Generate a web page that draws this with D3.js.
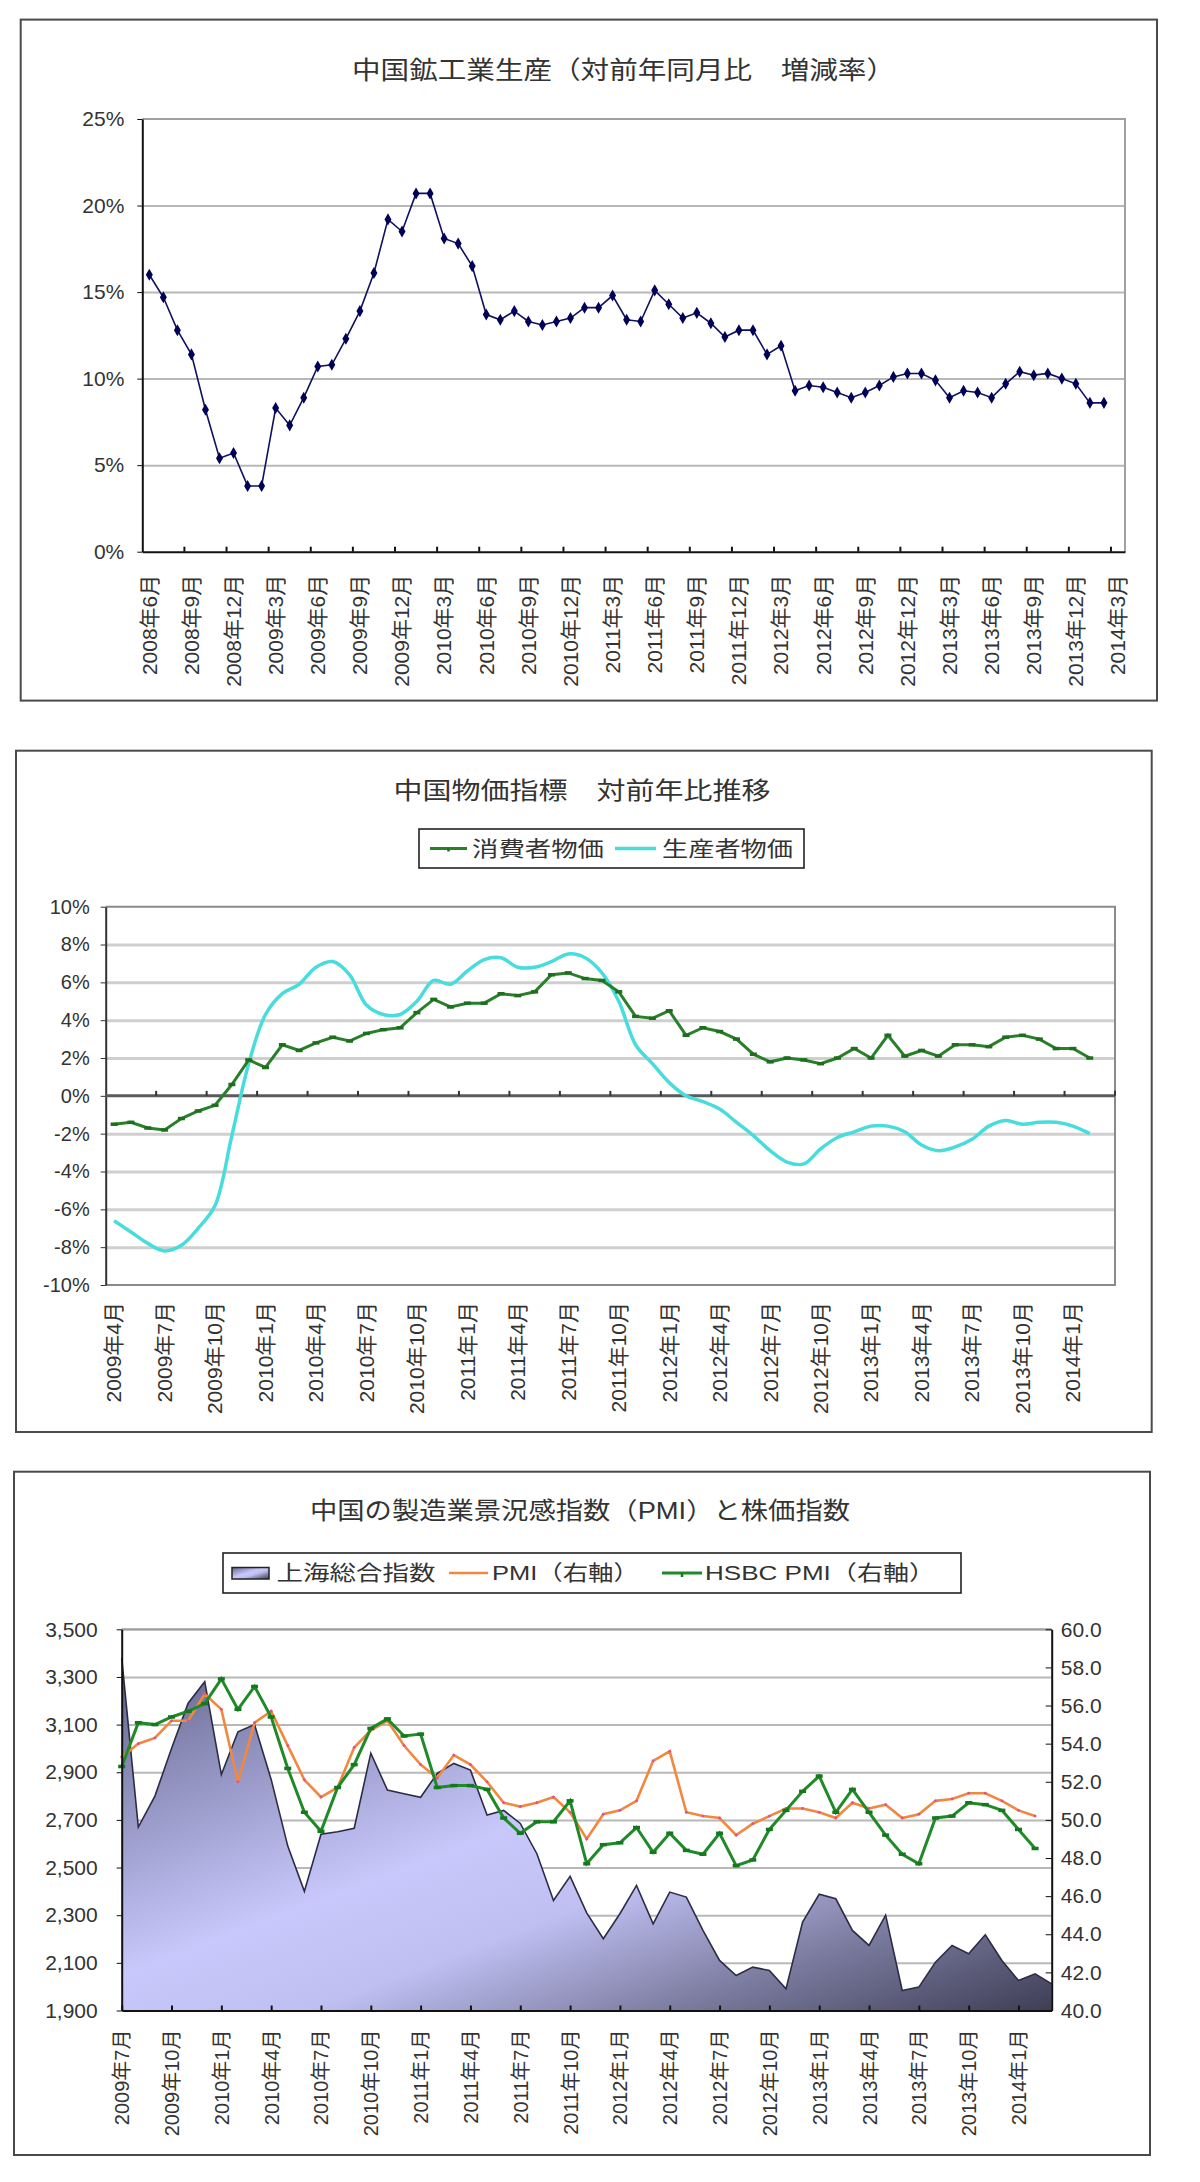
<!DOCTYPE html>
<html>
<head>
<meta charset="utf-8">
<script src="https://cdn.jsdelivr.net/npm/d3@7"></script>
<style>
  body { margin: 0; background: #fff; }
  svg text { font-family: "Liberation Sans", "Noto Sans CJK JP", sans-serif; fill: #333; }
</style>
</head>
<body>
<div id="chart-container"></div>
<script>
// ---------- data ----------
// Chart 1: 中国鉱工業生産 (YoY %), monthly 2008/6 .. 2014/3 (last month empty)
const ipMonths = d3.utcMonth.range(new Date(Date.UTC(2008, 5, 1)), new Date(Date.UTC(2014, 3, 1)));
const ipValues = [
  16.0, 14.7, 12.8, 11.4, 8.2, 5.4, 5.7,
  3.8, 3.8, 8.3, 7.3, 8.9, 10.7, 10.8, 12.3, 13.9, 16.1, 19.2, 18.5,
  20.7, 20.7, 18.1, 17.8, 16.5, 13.7, 13.4, 13.9, 13.3, 13.1, 13.3, 13.5,
  14.1, 14.1, 14.8, 13.4, 13.3, 15.1, 14.3, 13.5, 13.8, 13.2, 12.4, 12.8,
  12.8, 11.4, 11.9, 9.3, 9.6, 9.5, 9.2, 8.9, 9.2, 9.6, 10.1, 10.3,
  10.3, 9.9, 8.9, 9.3, 9.2, 8.9, 9.7, 10.4, 10.2, 10.3, 10.0, 9.7,
  8.6, 8.6
];
const ipYTicks = [0, 5, 10, 15, 20, 25];

// Chart 2: 消費者物価 / 生産者物価 (YoY %), monthly 2009/4 .. 2014/3 (last month empty)
const priceMonths = d3.utcMonth.range(new Date(Date.UTC(2009, 3, 1)), new Date(Date.UTC(2014, 3, 1)));
const cpiValues = [
  -1.5, -1.4, -1.7, -1.8, -1.2, -0.8, -0.5, 0.6, 1.9,
  1.5, 2.7, 2.4, 2.8, 3.1, 2.9, 3.3, 3.5, 3.6, 4.4, 5.1, 4.7,
  4.9, 4.9, 5.4, 5.3, 5.5, 6.4, 6.5, 6.2, 6.1, 5.5, 4.2, 4.1,
  4.5, 3.2, 3.6, 3.4, 3.0, 2.2, 1.8, 2.0, 1.9, 1.7, 2.0, 2.5,
  2.0, 3.2, 2.1, 2.4, 2.1, 2.7, 2.7, 2.6, 3.1, 3.2, 3.0, 2.5,
  2.5, 2.0
];
const ppiValues = [
  -6.6, -7.2, -7.8, -8.2, -7.9, -7.0, -5.8, -2.1, 1.7,
  4.3, 5.4, 5.9, 6.8, 7.1, 6.4, 4.8, 4.3, 4.3, 5.0, 6.1, 5.9,
  6.6, 7.2, 7.3, 6.8, 6.8, 7.1, 7.5, 7.3, 6.5, 5.0, 2.7, 1.7,
  0.7, 0.0, -0.3, -0.7, -1.4, -2.1, -2.9, -3.5, -3.6, -2.8, -2.2, -1.9,
  -1.6, -1.6, -1.9, -2.6, -2.9, -2.7, -2.3, -1.6, -1.3, -1.5, -1.4, -1.4,
  -1.6, -2.0
];
const priceYTicks = [-10, -8, -6, -4, -2, 0, 2, 4, 6, 8, 10];

// Chart 3: 上海総合指数 (left) and PMI / HSBC PMI (right), monthly 2009/7 .. 2014/3
const pmiMonths = d3.utcMonth.range(new Date(Date.UTC(2009, 6, 1)), new Date(Date.UTC(2014, 3, 1)));
const shanghaiValues = [
  3380, 2670, 2800, 3000, 3190, 3280,
  2890, 3070, 3100, 2870, 2590, 2400, 2640, 2650, 2665, 2980, 2825, 2810,
  2795, 2895, 2937, 2909, 2720, 2740, 2685, 2558, 2362, 2463, 2310, 2201,
  2306, 2425, 2264, 2397, 2376, 2236, 2110, 2047, 2082, 2068, 1991, 2271,
  2388, 2369, 2236, 2173, 2300, 1984, 1998, 2103, 2173, 2138, 2218, 2110,
  2026, 2054, 2012
];
const pmiValues = [
  53.3, 54.0, 54.3, 55.2, 55.2, 56.6,
  55.8, 52.0, 55.1, 55.7, 53.9, 52.1, 51.2, 51.7, 53.8, 54.7, 55.2, 53.9,
  52.9, 52.2, 53.4, 52.9, 52.0, 50.9, 50.7, 50.9, 51.2, 50.4, 49.0, 50.3,
  50.5, 51.0, 53.1, 53.6, 50.4, 50.2, 50.1, 49.2, 49.8, 50.2, 50.6, 50.6,
  50.4, 50.1, 50.9, 50.6, 50.8, 50.1, 50.3, 51.0, 51.1, 51.4, 51.4, 51.0,
  50.5, 50.2
];
const hsbcValues = [
  52.8, 55.1, 55.0, 55.4, 55.7, 56.1,
  57.4, 55.8, 57.0, 55.4, 52.7, 50.4, 49.4, 51.7, 52.9, 54.8, 55.3, 54.4,
  54.5, 51.7, 51.8, 51.8, 51.6, 50.1, 49.3, 49.9, 49.9, 51.0, 47.7, 48.7,
  48.8, 49.6, 48.3, 49.3, 48.4, 48.2, 49.3, 47.6, 47.9, 49.5, 50.5, 51.5,
  52.3, 50.4, 51.6, 50.4, 49.2, 48.2, 47.7, 50.1, 50.2, 50.9, 50.8, 50.5,
  49.5, 48.5
];
const stockTicks = [1900, 2100, 2300, 2500, 2700, 2900, 3100, 3300, 3500];
const pmiTicks = [40, 42, 44, 46, 48, 50, 52, 54, 56, 58, 60];

// ---------- setup ----------
const width = 1200;
const height = 2182;
const fontStack = '"Liberation Sans", "Noto Sans CJK JP", sans-serif';
const monthLabel = d3.utcFormat("%Y年%-m月");
const dash = "M-3.5,0H3.5";

const svg = d3.create("svg")
    .attr("width", width)
    .attr("height", height)
    .attr("viewBox", `0 0 ${width} ${height}`);

svg.append("rect").attr("width", width).attr("height", height).attr("fill", "#fff");

const defs = svg.append("defs");
const grad = defs.append("linearGradient").attr("id", "shGrad")
    .attr("x1", 0).attr("y1", 0).attr("x2", 1).attr("y2", 1);
[[0, "#5c5c84"], [0.15, "#8686b2"], [0.45, "#c8c8fc"], [0.6, "#bfbff2"], [0.8, "#7a7a9e"], [1, "#3e3e56"]]
  .forEach(([o, c]) => grad.append("stop").attr("offset", o).attr("stop-color", c));

function frame(x0, y0, x1, y1) {
  svg.append("rect")
      .attr("x", x0).attr("y", y0)
      .attr("width", x1 - x0).attr("height", y1 - y0)
      .attr("fill", "none").attr("stroke", "#4a4a4a").attr("stroke-width", 2);
}

function title(str, cx, cy, len, size) {
  svg.append("text")
      .attr("x", cx).attr("y", cy).attr("dy", "0.35em")
      .attr("text-anchor", "middle")
      .attr("font-size", size)
      .attr("textLength", len).attr("lengthAdjust", "spacingAndGlyphs")
      .text(str);
}

function styleAxis(g, size) {
  g.attr("font-family", fontStack).attr("font-size", size);
  g.selectAll("text").attr("fill", "#333");
}

function rotateLabels(g, gap) {
  g.selectAll("text")
      .attr("transform", "rotate(-90)")
      .attr("text-anchor", "end")
      .attr("x", -gap).attr("y", 0).attr("dy", "0.35em");
}

// ================= Chart 1 =================
const c1 = {left: 142.3, right: 1125, top: 119, bottom: 551.7};
frame(20.7, 19.6, 1157, 700.6);
title("中国鉱工業生産（対前年同月比　増減率）", 623.5, 70, 543, 25);

const x1 = d3.scaleBand().domain(d3.range(ipMonths.length)).range([c1.left, c1.right]);
const y1 = d3.scaleLinear().domain([0, 25]).range([c1.bottom, c1.top]);

// Gridlines
svg.append("g")
    .attr("transform", `translate(${c1.left},0)`)
    .call(d3.axisLeft(y1).tickValues(ipYTicks.slice(1, -1)).tickSize(-(c1.right - c1.left)).tickFormat(""))
    .call(g => g.select(".domain").remove())
    .call(g => g.selectAll("line").attr("stroke", "#b8b8b8").attr("stroke-width", 2));

svg.append("path")
    .attr("d", `M${c1.left},${y1(25)}H${c1.right}V${c1.bottom}`)
    .attr("fill", "none").attr("stroke", "#a0a0a0").attr("stroke-width", 2);

// Y axis
svg.append("g")
    .attr("transform", `translate(${c1.left},0)`)
    .call(d3.axisLeft(y1).tickValues(ipYTicks).tickFormat(d => d + "%").tickSize(5).tickSizeOuter(0).tickPadding(13))
    .call(g => styleAxis(g, 21))
    .call(g => g.select(".domain").attr("stroke", "#111").attr("stroke-width", 2))
    .call(g => g.selectAll("line").attr("stroke", "#111"));

// X axis (labels centred on categories, every 3 months)
svg.append("g")
    .attr("transform", `translate(0,${c1.bottom})`)
    .call(d3.axisBottom(x1).tickValues(d3.range(0, ipMonths.length, 3))
        .tickFormat(i => monthLabel(ipMonths[i])).tickSize(0).tickSizeOuter(0))
    .call(g => styleAxis(g, 21))
    .call(g => g.select(".domain").attr("stroke", "#111").attr("stroke-width", 2))
    .call(g => rotateLabels(g, 23));

// Tick marks between categories
svg.append("g").selectAll("line")
    .data(d3.range(3, ipMonths.length, 3))
    .join("line")
    .attr("x1", i => x1(i)).attr("x2", i => x1(i))
    .attr("y1", c1.bottom).attr("y2", c1.bottom - 5)
    .attr("stroke", "#111").attr("stroke-width", 2);

const ipLine = d3.line()
    .x((d, i) => x1(i) + x1.bandwidth() / 2)
    .y(d => y1(d));

svg.append("path")
    .datum(ipValues)
    .attr("d", ipLine)
    .attr("fill", "none").attr("stroke", "#101060").attr("stroke-width", 1.6);

svg.append("g").selectAll("path")
    .data(ipValues)
    .join("path")
    .attr("transform", (d, i) => `translate(${x1(i) + x1.bandwidth() / 2},${y1(d)})`)
    .attr("d", d3.symbol(d3.symbolDiamond, 42))
    .attr("fill", "#000058");

// ================= Chart 2 =================
const c2 = {left: 105.7, right: 1115, top: 906.7, bottom: 1285};
frame(16, 750.7, 1151.7, 1432);
title("中国物価指標　対前年比推移", 582, 791, 377, 24);

const x2 = d3.scaleBand().domain(d3.range(priceMonths.length)).range([c2.left, c2.right]);
const y2 = d3.scaleLinear().domain([-10, 10]).range([c2.bottom, c2.top]);

svg.append("g")
    .attr("transform", `translate(${c2.left},0)`)
    .call(d3.axisLeft(y2).tickValues(priceYTicks.filter(v => v !== 0 && Math.abs(v) < 10))
        .tickSize(-(c2.right - c2.left)).tickFormat(""))
    .call(g => g.select(".domain").remove())
    .call(g => g.selectAll("line").attr("stroke", "#cfcfcf").attr("stroke-width", 3));

svg.append("path")
    .attr("d", `M${c2.left},${y2(10)}H${c2.right}V${y2(-10)}H${c2.left}`)
    .attr("fill", "none").attr("stroke", "#8a8a8a").attr("stroke-width", 2);

svg.append("g")
    .attr("transform", `translate(${c2.left},0)`)
    .call(d3.axisLeft(y2).tickValues(priceYTicks).tickFormat(d => d + "%").tickSize(5).tickSizeOuter(0).tickPadding(11))
    .call(g => styleAxis(g, 20))
    .call(g => g.select(".domain").attr("stroke", "#333").attr("stroke-width", 2))
    .call(g => g.selectAll("line").attr("stroke", "#333"));

// Zero line with tick marks
svg.append("line")
    .attr("x1", c2.left).attr("x2", c2.right)
    .attr("y1", y2(0)).attr("y2", y2(0))
    .attr("stroke", "#5a5a5a").attr("stroke-width", 3);

svg.append("g").selectAll("line")
    .data(d3.range(3, priceMonths.length + 1, 3))
    .join("line")
    .attr("x1", i => c2.left + i * x2.step()).attr("x2", i => c2.left + i * x2.step())
    .attr("y1", y2(0)).attr("y2", y2(0) - 5)
    .attr("stroke", "#333").attr("stroke-width", 2);

// Month labels under the plot
svg.append("g")
    .attr("transform", `translate(0,${c2.bottom})`)
    .call(d3.axisBottom(x2).tickValues(d3.range(0, priceMonths.length, 3))
        .tickFormat(i => monthLabel(priceMonths[i])).tickSize(0).tickSizeOuter(0))
    .call(g => styleAxis(g, 21))
    .call(g => g.select(".domain").remove())
    .call(g => rotateLabels(g, 17));

const px2 = i => x2(i) + x2.bandwidth() / 2;

svg.append("path")
    .datum(ppiValues)
    .attr("d", d3.line().x((d, i) => px2(i)).y(d => y2(d)).curve(d3.curveCatmullRom.alpha(0.5)))
    .attr("fill", "none").attr("stroke", "#48dcdc").attr("stroke-width", 3.5);

svg.append("path")
    .datum(cpiValues)
    .attr("d", d3.line().x((d, i) => px2(i)).y(d => y2(d)))
    .attr("fill", "none").attr("stroke", "#2a7f2a").attr("stroke-width", 3);

svg.append("g").selectAll("path")
    .data(cpiValues)
    .join("path")
    .attr("transform", (d, i) => `translate(${px2(i)},${y2(d)})`)
    .attr("d", dash)
    .attr("stroke", "#1f6e1f").attr("stroke-width", 3.5);

// Legend
const lg2 = svg.append("g");
lg2.append("rect").attr("x", 419).attr("y", 829).attr("width", 385).attr("height", 39)
    .attr("fill", "#fff").attr("stroke", "#222").attr("stroke-width", 1.6);
lg2.append("line").attr("x1", 430).attr("x2", 467).attr("y1", 848.5).attr("y2", 848.5)
    .attr("stroke", "#2a7f2a").attr("stroke-width", 3);
lg2.append("path").attr("transform", "translate(448.5,848.5)").attr("d", "M0,0V3")
    .attr("stroke", "#1f6e1f").attr("stroke-width", 2.5);
lg2.append("text").attr("x", 472).attr("y", 848.5).attr("dy", "0.35em").attr("font-size", 21)
    .attr("textLength", 132).attr("lengthAdjust", "spacingAndGlyphs").text("消費者物価");
lg2.append("line").attr("x1", 615).attr("x2", 656).attr("y1", 848.5).attr("y2", 848.5)
    .attr("stroke", "#48dcdc").attr("stroke-width", 3.5);
lg2.append("text").attr("x", 662).attr("y", 848.5).attr("dy", "0.35em").attr("font-size", 21)
    .attr("textLength", 131).attr("lengthAdjust", "spacingAndGlyphs").text("生産者物価");

// ================= Chart 3 =================
const c3 = {left: 121.7, right: 1051.7, top: 1629.3, bottom: 2010.5};
frame(14, 1471.7, 1150, 2155);
title("中国の製造業景況感指数（PMI）と株価指数", 580, 1511, 540, 24);

const x3 = d3.scalePoint().domain(d3.range(pmiMonths.length)).range([c3.left, c3.right]);
const y3 = d3.scaleLinear().domain([1900, 3500]).range([c3.bottom, c3.top]);
const y3r = d3.scaleLinear().domain([40, 60]).range([c3.bottom, c3.top]);

svg.append("g")
    .attr("transform", `translate(${c3.left},0)`)
    .call(d3.axisLeft(y3).tickValues(stockTicks.slice(1)).tickSize(-(c3.right - c3.left)).tickFormat(""))
    .call(g => g.select(".domain").remove())
    .call(g => g.selectAll("line").attr("stroke", "#b8b8b8").attr("stroke-width", 2));

// Shanghai composite area
svg.append("path")
    .datum(shanghaiValues)
    .attr("d", d3.area().x((d, i) => x3(i)).y0(y3(1900)).y1(d => y3(d)))
    .attr("fill", "url(#shGrad)");

svg.append("path")
    .datum(shanghaiValues)
    .attr("d", d3.line().x((d, i) => x3(i)).y(d => y3(d)))
    .attr("fill", "none").attr("stroke", "#2c2c46").attr("stroke-width", 1.6);

// PMI (right axis)
svg.append("path")
    .datum(pmiValues)
    .attr("d", d3.line().x((d, i) => x3(i)).y(d => y3r(d)))
    .attr("fill", "none").attr("stroke", "#f2873e").attr("stroke-width", 2.6);

svg.append("g").selectAll("circle")
    .data(pmiValues)
    .join("circle")
    .attr("cx", (d, i) => x3(i)).attr("cy", d => y3r(d))
    .attr("r", 1.4).attr("fill", "#e0509a");

// HSBC PMI (right axis)
svg.append("path")
    .datum(hsbcValues)
    .attr("d", d3.line().x((d, i) => x3(i)).y(d => y3r(d)))
    .attr("fill", "none").attr("stroke", "#1f8a27").attr("stroke-width", 3);

svg.append("g").selectAll("path")
    .data(hsbcValues)
    .join("path")
    .attr("transform", (d, i) => `translate(${x3(i)},${y3r(d)})`)
    .attr("d", dash)
    .attr("stroke", "#16781e").attr("stroke-width", 3.5);

svg.append("line")
    .attr("x1", c3.left).attr("x2", c3.right)
    .attr("y1", c3.top).attr("y2", c3.top)
    .attr("stroke", "#a0a0a0").attr("stroke-width", 2);

// Left axis
svg.append("g")
    .attr("transform", `translate(${c3.left},0)`)
    .call(d3.axisLeft(y3).tickValues(stockTicks).tickFormat(d3.format(",")).tickSize(5).tickSizeOuter(0).tickPadding(19))
    .call(g => styleAxis(g, 21))
    .call(g => g.select(".domain").attr("stroke", "#111").attr("stroke-width", 2))
    .call(g => g.selectAll("line").attr("stroke", "#111"));

// Right axis
svg.append("g")
    .attr("transform", `translate(${c3.right},0)`)
    .call(d3.axisRight(y3r).tickValues(pmiTicks).tickFormat(d3.format(".1f")).tickSizeInner(-6).tickSizeOuter(0).tickPadding(9))
    .call(g => styleAxis(g, 21))
    .call(g => g.select(".domain").attr("stroke", "#111").attr("stroke-width", 2))
    .call(g => g.selectAll("line").attr("stroke", "#111"));

// Bottom axis
svg.append("g")
    .attr("transform", `translate(0,${c3.bottom})`)
    .call(d3.axisBottom(x3).tickValues(d3.range(0, pmiMonths.length, 3))
        .tickFormat(i => monthLabel(pmiMonths[i])).tickSizeInner(-5).tickSizeOuter(0).tickPadding(0))
    .call(g => styleAxis(g, 20))
    .call(g => g.select(".domain").attr("stroke", "#111").attr("stroke-width", 2))
    .call(g => g.selectAll("line").attr("stroke", "#111").attr("stroke-width", 2))
    .call(g => rotateLabels(g, 19));

// Legend
const lg3 = svg.append("g");
lg3.append("rect").attr("x", 223).attr("y", 1553).attr("width", 738).attr("height", 40)
    .attr("fill", "#fff").attr("stroke", "#222").attr("stroke-width", 1.6);
lg3.append("rect").attr("x", 232).attr("y", 1567.5).attr("width", 37).attr("height", 11.5)
    .attr("fill", "url(#shGrad)").attr("stroke", "#222").attr("stroke-width", 1.5);
lg3.append("text").attr("x", 276.5).attr("y", 1573).attr("dy", "0.35em").attr("font-size", 21)
    .attr("textLength", 159).attr("lengthAdjust", "spacingAndGlyphs").text("上海総合指数");
lg3.append("line").attr("x1", 449).attr("x2", 488).attr("y1", 1573).attr("y2", 1573)
    .attr("stroke", "#f2873e").attr("stroke-width", 2.6);
lg3.append("text").attr("x", 492).attr("y", 1573).attr("dy", "0.35em").attr("font-size", 21)
    .attr("textLength", 147).attr("lengthAdjust", "spacingAndGlyphs").text("PMI（右軸）");
lg3.append("line").attr("x1", 662).attr("x2", 702).attr("y1", 1573).attr("y2", 1573)
    .attr("stroke", "#1f8a27").attr("stroke-width", 3);
lg3.append("path").attr("transform", "translate(682,1573)").attr("d", "M0,0V4")
    .attr("stroke", "#16781e").attr("stroke-width", 2.5);
lg3.append("text").attr("x", 705).attr("y", 1573).attr("dy", "0.35em").attr("font-size", 21)
    .attr("textLength", 230).attr("lengthAdjust", "spacingAndGlyphs").text("HSBC PMI（右軸）");

d3.select("#chart-container").append(() => svg.node());
</script>
</body>
</html>
